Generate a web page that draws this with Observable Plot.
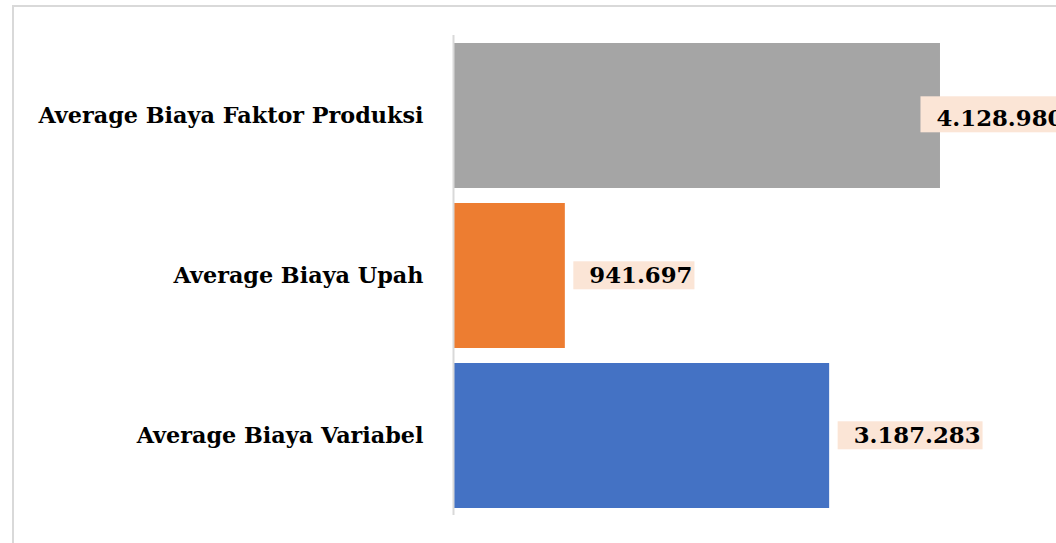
<!DOCTYPE html>
<html>
<head>
<meta charset="utf-8">
<script src="https://cdn.jsdelivr.net/npm/d3@7"></script>
<script src="https://cdn.jsdelivr.net/npm/@observablehq/plot@0.6"></script>
<style>
  html, body { margin: 0; padding: 0; background: #fff; overflow: hidden; }
  #wrap { position: relative; width: 1056px; height: 543px; }
  #frame { position: absolute; left: 12px; top: 5px; width: 1100px; height: 600px;
           border-top: 2px solid #d9d9d9; border-left: 2px solid #d9d9d9; pointer-events: none; z-index: 2; }
  #chart svg { position: absolute; left: 0; top: 0; }
</style>
</head>
<body>
<div id="wrap"><div id="frame"></div><div id="chart"></div></div>
<script>
const categories = ["Average Biaya Faktor Produksi", "Average Biaya Upah", "Average Biaya Variabel"];
const values = [4128980, 941697, 3187283];
const valueLabels = ["4.128.980", "941.697", "3.187.283"];
const colors = ["#a5a5a5", "#ed7d31", "#4472c4"];

const data = categories.map((c, i) => ({cat: c, value: values[i], label: valueLabels[i], color: colors[i]}));
const maxV = d3.max(values);
const inside = data.filter(d => d.value === maxV);
const outside = data.filter(d => d.value !== maxV);

const font = "'DejaVu Serif', 'Liberation Serif', serif";

const chart = Plot.plot({
  width: 1056,
  height: 543,
  marginLeft: 454,
  marginRight: 13.5,
  marginTop: 35,
  marginBottom: 28,
  style: {fontFamily: font, fontWeight: "bold", fontSize: "22px", color: "#000", background: "transparent"},
  x: {domain: [0, 5000000], axis: null},
  y: {domain: categories, paddingInner: 0.09375, paddingOuter: 0.046875, label: null},
  color: {type: "identity"},
  marks: [
    Plot.barX(data, {x: "value", y: "cat", fill: "color"}),
    Plot.ruleX([0], {stroke: "#d9d9d9", strokeWidth: 2, dx: -1}),
    Plot.axisY({tickSize: 0, tickPadding: 31, fontSize: 22.3, fontFamily: font, fontWeight: "bold", fill: "#000"}),
    Plot.text(outside, {x: "value", y: "cat", text: "label", dx: 24, textAnchor: "start", fill: "#000",
      fontSize: 22.8, fontWeight: "bold", fontFamily: font}),
    Plot.text(inside, {x: "value", y: "cat", text: "label", dx: -4, dy: 3, textAnchor: "start", fill: "#000",
      fontSize: 22.8, fontWeight: "bold", fontFamily: font})
  ]
});
document.getElementById("chart").appendChild(chart);

// label background boxes sized from the rendered value-label text
chart.querySelectorAll("text").forEach(t => {
  const i = valueLabels.indexOf(t.textContent);
  if (i < 0) return;
  const isInside = values[i] === maxV;
  const h = isInside ? 36 : 28;
  const b = t.getBBox();
  const cy = b.y + b.height / 2 + (isInside ? -4 : 0);
  const r = document.createElementNS("http://www.w3.org/2000/svg", "rect");
  r.setAttribute("x", b.x - 16);
  r.setAttribute("y", cy - h / 2);
  r.setAttribute("width", b.width + 18);
  r.setAttribute("height", h);
  r.setAttribute("fill", "#fbe5d6");
  const tr = t.getAttribute("transform");
  if (tr) r.setAttribute("transform", tr);
  t.parentNode.insertBefore(r, t);
});
</script>
</body>
</html>
